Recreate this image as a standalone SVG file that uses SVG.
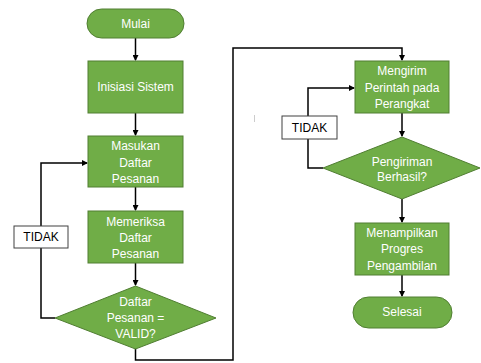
<svg xmlns="http://www.w3.org/2000/svg" width="481" height="363" viewBox="0 0 481 363">
<defs>
<marker id="arr" markerWidth="6" markerHeight="6" refX="5" refY="3" orient="auto" markerUnits="userSpaceOnUse">
<path d="M0,0 L6,3 L0,6 Z" fill="#000"/>
</marker>
<style>
.n{fill:#70AD47;stroke:#507E32;stroke-width:1}
.t{font-family:"Liberation Sans",Arial,sans-serif;font-size:12px;fill:#fff;text-anchor:middle}
.lb{fill:#fff;stroke:#404040;stroke-width:1}
.lt{font-family:"Liberation Sans",Arial,sans-serif;font-size:12px;fill:#000;text-anchor:middle}
.c{fill:none;stroke:#000;stroke-width:1.5}
</style>
</defs>
<rect width="481" height="363" fill="#fff"/>
<g id="connectors">
<path class="c" d="M135.5,38 V60" marker-end="url(#arr)"/>
<path class="c" d="M135.5,113 V135" marker-end="url(#arr)"/>
<path class="c" d="M135.5,187 V210" marker-end="url(#arr)"/>
<path class="c" d="M135.5,263 V285" marker-end="url(#arr)"/>
<path class="c" d="M55,318 H41 V163 H87" marker-end="url(#arr)"/>
<path class="c" d="M135.5,348 V360 H233 V48 H402 V60" marker-end="url(#arr)"/>
<path class="c" d="M402,113 V136" marker-end="url(#arr)"/>
<path class="c" d="M323,168 H308 V88 H354" marker-end="url(#arr)"/>
<path class="c" d="M402,199 V222" marker-end="url(#arr)"/>
<path class="c" d="M402,275 V296" marker-end="url(#arr)"/>
</g>
<g id="mulai">
<rect class="n" x="87" y="9" width="97" height="29" rx="14.5"/>
<text class="t" x="135.5" y="28">Mulai</text>
</g>
<g id="inisiasi">
<rect class="n" x="88" y="61" width="95" height="52"/>
<text class="t" x="135.5" y="91">Inisiasi Sistem</text>
</g>
<g id="masukan">
<rect class="n" x="88" y="136" width="95" height="51"/>
<text class="t" x="135.5" y="150">Masukan</text>
<text class="t" x="135.5" y="166.5">Daftar</text>
<text class="t" x="135.5" y="183">Pesanan</text>
</g>
<g id="memeriksa">
<rect class="n" x="88" y="211" width="95" height="52"/>
<text class="t" x="135.5" y="225.5">Memeriksa</text>
<text class="t" x="135.5" y="241.5">Daftar</text>
<text class="t" x="135.5" y="257.5">Pesanan</text>
</g>
<g id="valid">
<polygon class="n" points="135.5,286 216,318 135.5,349 55,318"/>
<text class="t" x="135.5" y="306">Daftar</text>
<text class="t" x="135.5" y="322">Pesanan =</text>
<text class="t" x="135.5" y="338">VALID?</text>
</g>
<g id="tidak1">
<rect class="lb" x="14" y="226" width="54" height="22"/>
<text class="lt" x="41" y="241">TIDAK</text>
</g>
<g id="mengirim">
<rect class="n" x="355" y="61" width="94" height="52"/>
<text class="t" x="402" y="75">Mengirim</text>
<text class="t" x="402" y="92">Perintah pada</text>
<text class="t" x="402" y="108">Perangkat</text>
</g>
<g id="berhasil">
<polygon class="n" points="402,137 480,168 402,199 323,168"/>
<text class="t" x="402" y="166">Pengiriman</text>
<text class="t" x="402" y="181">Berhasil?</text>
</g>
<g id="tidak2">
<rect class="lb" x="282" y="116" width="55" height="23"/>
<text class="lt" x="309.5" y="131.5">TIDAK</text>
</g>
<g id="menampilkan">
<rect class="n" x="355" y="223" width="94" height="52"/>
<text class="t" x="402" y="236.5">Menampilkan</text>
<text class="t" x="402" y="253">Progres</text>
<text class="t" x="402" y="269.5">Pengambilan</text>
</g>
<g id="selesai">
<rect class="n" x="353" y="297" width="99" height="31" rx="15.5"/>
<text class="t" x="402" y="316">Selesai</text>
</g>
<line x1="254.5" y1="115" x2="254.5" y2="122" stroke="#ccc" stroke-width="1"/>
</svg>
